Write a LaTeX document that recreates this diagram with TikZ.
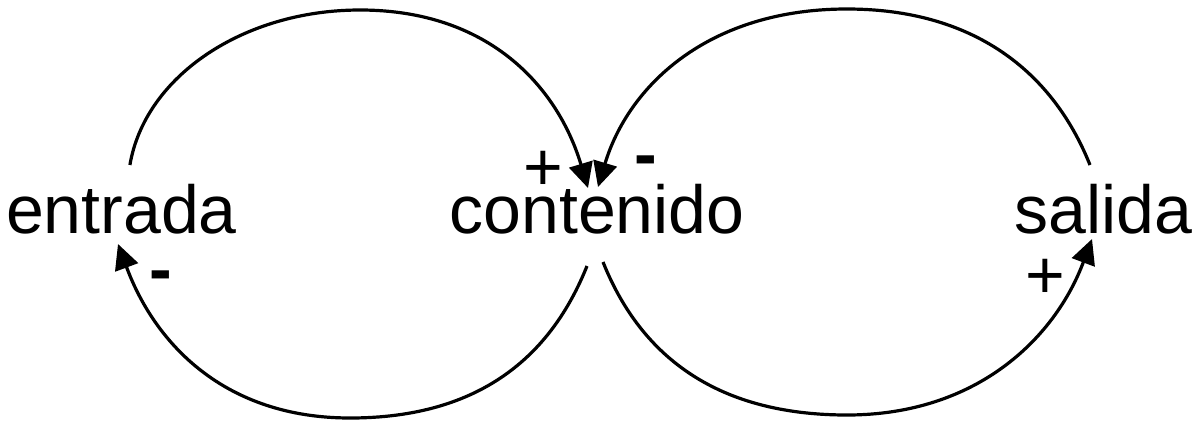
\documentclass[tikz,border=0pt]{standalone}
\usepackage{fontspec}
\setmainfont{Liberation Sans}
\usetikzlibrary{arrows.meta}
\begin{document}
\begin{tikzpicture}[x=1pt,y=-1pt,
  lbl/.style={anchor=base,inner sep=0pt,font=\fontsize{68}{80}\selectfont},
  sgn/.style={anchor=base,inner sep=0pt,font=\fontsize{68}{80}\selectfont},
  neg/.style={sgn,font=\fontsize{68}{80}\selectfont\bfseries},
  link/.style={line width=3.2pt,-{Triangle[length=25pt,width=24pt]}}]
\useasboundingbox (0,0) rectangle (1197,421);
% variables
\node[lbl] (entrada) at (121.5,233) {entrada};
\node[lbl] (contenido) at (597,233) {contenido};
\node[lbl] (salida) at (1103.5,233) {salida};
% polarity signs
\node[sgn] (pTL) at (543,190) {+};
\node[neg] (mTR) at (645.5,177) {-};
\node[neg] (mBL) at (160.5,292) {-};
\node[sgn] (pBR) at (1045,298) {+};
% connector end points
\coordinate (eT) at (129.9,165);
\coordinate (topL) at (360,10);
\coordinate (cTL) at (588,188);
\coordinate (cBL) at (587,266);
\coordinate (botL) at (350,418);
\coordinate (eB) at (118,244);
\coordinate (sT) at (1090,165);
\coordinate (topR) at (847,9);
\coordinate (cTR) at (598,187);
\coordinate (cBR) at (603,262);
\coordinate (botR) at (847,415);
\coordinate (sB) at (1092,239);
% links
\draw[link] (eT) .. controls (144.9,76.3) and (243.4,10) .. (topL)
  .. controls (490,10) and (558,88) .. (cTL);
\draw[link] (cBL) .. controls (551,356) and (480,418) .. (botL)
  .. controls (225,418) and (155,344) .. (eB);
\draw[link] (sT) .. controls (1052,70) and (972,9) .. (topR)
  .. controls (707,9) and (628,87) .. (cTR);
\draw[link] (cBR) .. controls (639,352) and (712,415) .. (botR)
  .. controls (977,415) and (1055,338) .. (sB);
\end{tikzpicture}
\end{document}
